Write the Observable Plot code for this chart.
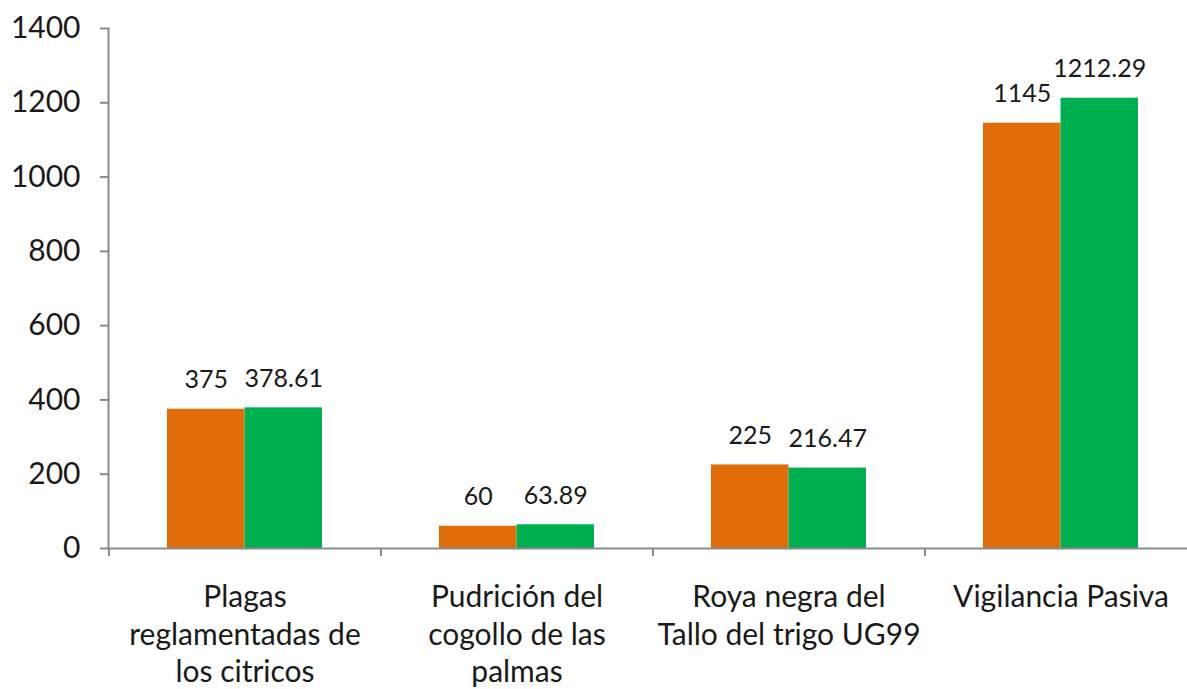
<!DOCTYPE html>
<html>
<head>
<meta charset="utf-8">
<script src="https://cdn.jsdelivr.net/npm/d3@7"></script>
<script src="https://cdn.jsdelivr.net/npm/@observablehq/plot@0.6"></script>
<style>
  html, body { margin: 0; padding: 0; background: #ffffff; }
  #chart svg { display: block; }
</style>
</head>
<body>
<div id="chart"></div>
<script>
const categories = [
  "Plagas\nreglamentadas de\nlos citricos",
  "Pudrición del\ncogollo de las\npalmas",
  "Roya negra del\nTallo del trigo UG99",
  "Vigilancia Pasiva"
];
const seriesNames = ["Serie 1", "Serie 2"];
const serie1 = [375, 60, 225, 1145];
const serie2 = [378.61, 63.89, 216.47, 1212.29];
const yTicks = [0, 200, 400, 600, 800, 1000, 1200, 1400];

const rows1 = categories.map((c, i) => ({cat: c, series: seriesNames[0], value: serie1[i]}));
const rows2 = categories.map((c, i) => ({cat: c, series: seriesNames[1], value: serie2[i]}));

const gray = "#8a8a8a";
const font = "Lato, Carlito, Calibri, sans-serif";
const step = 272;
const barW = step * 0.57;

const chart = Plot.plot({
  width: 1187,
  height: 689,
  marginTop: 28,
  marginBottom: 141,
  marginLeft: 108,
  marginRight: 0,
  style: {fontFamily: font, background: "#ffffff", color: "#1a1a1a"},
  x: {domain: categories, range: [109, 1197], paddingInner: 0.43, paddingOuter: 0.215, align: 0.5},
  y: {domain: [0, 1400]},
  color: {domain: seriesNames, range: ["#E36C0A", "#00B050"]},
  marks: [
    Plot.barY(rows1, {x: "cat", y: "value", fill: "series", insetRight: barW / 2}),
    Plot.barY(rows2, {x: "cat", y: "value", fill: "series", insetLeft: barW / 2}),
    Plot.text(rows1, {x: "cat", y: "value", text: d => String(d.value), dx: -barW / 4, dy: -29, fontSize: 25, fill: "#1a1a1a"}),
    Plot.text(rows2, {x: "cat", y: "value", text: d => String(d.value), dx: barW / 4, dy: -29, fontSize: 25, fill: "#1a1a1a"}),
    Plot.frame({anchor: "left", stroke: gray, strokeWidth: 2}),
    Plot.frame({anchor: "bottom", stroke: gray, strokeWidth: 2}),
    Plot.axisY({ticks: yTicks, tickSize: 8, tickPadding: 20, fontSize: 30, stroke: gray, strokeWidth: 2, fill: "#1a1a1a", label: null, tickFormat: d => String(d)}),
    Plot.axisX({tickSize: 8, text: null, dx: -step / 2, stroke: gray, strokeWidth: 2, label: null}),
    Plot.axisX({tickSize: 0, tickPadding: 32, fontSize: 30, lineHeight: 1.25, fill: "#1a1a1a", label: null})
  ]
});
document.getElementById("chart").appendChild(chart);
</script>
</body>
</html>
